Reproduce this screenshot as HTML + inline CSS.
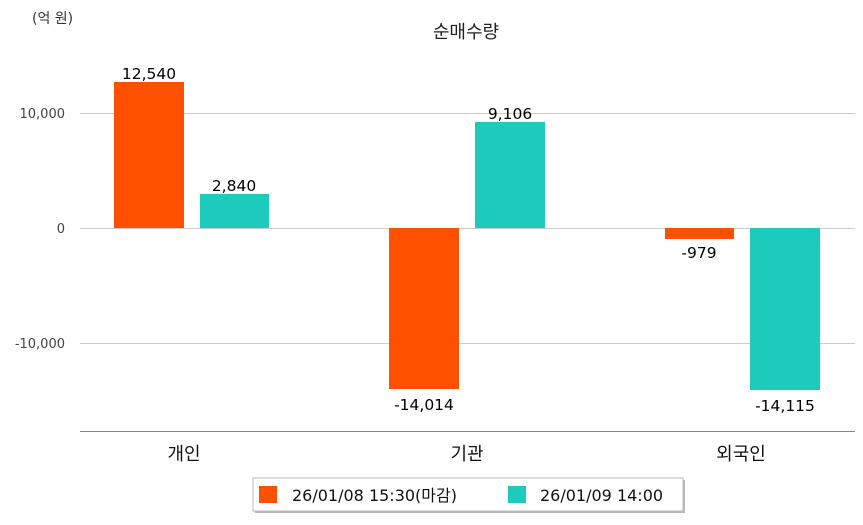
<!DOCTYPE html>
<html><head><meta charset="utf-8"><style>
body{margin:0;background:#fff}
svg text{font-family:"DejaVu Sans","Noto Sans CJK KR",sans-serif}
</style></head><body>
<svg width="863" height="520" xmlns="http://www.w3.org/2000/svg">
<rect width="863" height="520" fill="#fff"/>
<text x="32" y="23" font-size="14" fill="#333">(억 원)</text>
<text x="466" y="38" font-size="18" fill="#222" text-anchor="middle">순매수량</text>
<g stroke="#ccc" stroke-width="1">
<line x1="80" y1="113.5" x2="855" y2="113.5"/>
<line x1="80" y1="228.5" x2="855" y2="228.5"/>
<line x1="80" y1="343.5" x2="855" y2="343.5"/>
</g>
<line x1="80" y1="431.5" x2="855" y2="431.5" stroke="#888"/>
<g font-size="13" fill="#444" text-anchor="end">
<text x="65" y="118">10,000</text>
<text x="65" y="233">0</text>
<text x="65" y="348">-10,000</text>
</g>
<g fill="#ff5000">
<rect x="114" y="82" width="70" height="146"/>
<rect x="389" y="228" width="70" height="161"/>
<rect x="665" y="228" width="69" height="11"/>
</g>
<g fill="#1ccbbb">
<rect x="200" y="194" width="69" height="34"/>
<rect x="475" y="122" width="70" height="106"/>
<rect x="750" y="228" width="70" height="162"/>
</g>
<g font-size="15.5" fill="#000" text-anchor="middle">
<text x="149" y="79">12,540</text>
<text x="234" y="191">2,840</text>
<text x="424" y="410">-14,014</text>
<text x="510" y="119">9,106</text>
<text x="699" y="258">-979</text>
<text x="785" y="411">-14,115</text>
</g>
<g font-size="18" fill="#111" text-anchor="middle">
<text x="184" y="460">개인</text>
<text x="467" y="460">기관</text>
<text x="741" y="460">외국인</text>
</g>
<rect x="255" y="480" width="430" height="33" fill="#888" opacity="0.6"/>
<rect x="253" y="478" width="430" height="33" fill="#fff" stroke="#bbb"/>
<rect x="259" y="486" width="18" height="17" fill="#ff5000"/>
<text x="292" y="501" font-size="16" fill="#111">26/01/08 15:30(마감)</text>
<rect x="508" y="486" width="18" height="17" fill="#1ccbbb"/>
<text x="540" y="501" font-size="16" fill="#111">26/01/09 14:00</text>
</svg>
</body></html>
